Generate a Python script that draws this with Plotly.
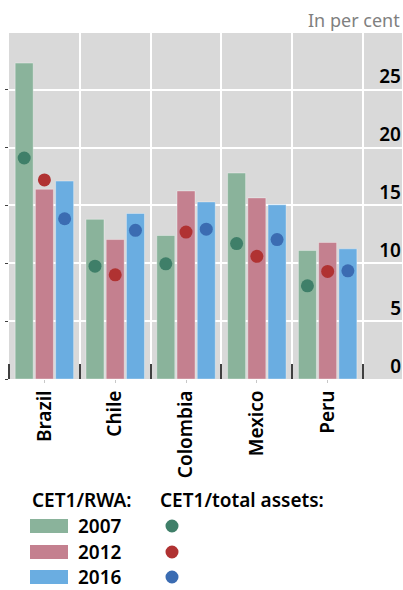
import plotly.graph_objects as go

# CET1 ratios by country, in per cent
countries = ["Brazil", "Chile", "Colombia", "Mexico", "Peru"]
years = ["2007", "2012", "2016"]

rwa_2007 = [27.3, 13.8, 12.4, 17.8, 11.1]
rwa_2012 = [16.4, 12.05, 16.25, 15.65, 11.8]
rwa_2016 = [17.1, 14.3, 15.3, 15.05, 11.25]

assets_2007 = [19.1, 9.75, 9.95, 11.7, 8.05]
assets_2012 = [17.2, 9.0, 12.7, 10.6, 9.3]
assets_2016 = [13.85, 12.85, 12.95, 12.05, 9.35]

y_ticks = [0, 5, 10, 15, 20, 25]

bar_colors = ["#8ab39b", "#c4808f", "#6aade1"]
dot_colors = ["#3f7f69", "#b03232", "#3b6cb2"]

FONT = "Noto Sans"
W, H = 403, 590
M_L, M_R, M_T, M_B = 9, 1, 33, 211

positions = list(range(len(countries)))

fig = go.Figure()

for year, vals, col in zip(years, [rwa_2007, rwa_2012, rwa_2016], bar_colors):
    fig.add_trace(go.Bar(
        x=positions, y=vals, name=f"CET1/RWA {year}",
        marker=dict(color=col, line=dict(color="rgba(255,255,255,0.35)", width=1)),
        showlegend=False,
    ))

for year, vals, col in zip(years, [assets_2007, assets_2012, assets_2016], dot_colors):
    fig.add_trace(go.Scatter(
        x=positions, y=vals, mode="markers", name=f"CET1/total assets {year}",
        marker=dict(color=col, size=13, line=dict(width=0)),
        showlegend=False,
    ))


# helpers converting page pixels to paper coordinates for the key
def px_x(x):
    return (x - M_L) / (W - M_L - M_R)


def px_y(y):
    return (H - M_B - y) / (H - M_B - M_T)


shapes = []
annotations = []

annotations.append(dict(
    text="In per cent", xref="paper", yref="paper", x=px_x(401), y=px_y(20),
    xanchor="right", yanchor="middle", showarrow=False, borderpad=0,
    font=dict(family=FONT, size=18, color="#808080"),
))

for label, x0 in [("CET1/RWA:", 31), ("CET1/total assets:", 159)]:
    annotations.append(dict(
        text=label, xref="paper", yref="paper", x=px_x(x0), y=px_y(500),
        xanchor="left", yanchor="middle", showarrow=False, borderpad=0,
        font=dict(family=FONT, size=19, color="black", weight=600),
    ))

row_y = [526, 552, 577]
for year, yc, bc, dc in zip(years, row_y, bar_colors, dot_colors):
    shapes.append(dict(
        type="rect", xref="paper", yref="paper",
        x0=px_x(30), x1=px_x(68), y0=px_y(yc + 7), y1=px_y(yc - 7),
        fillcolor=bc, line=dict(width=0),
    ))
    annotations.append(dict(
        text=year, xref="paper", yref="paper", x=px_x(77), y=px_y(yc),
        xanchor="left", yanchor="middle", showarrow=False, borderpad=0,
        font=dict(family=FONT, size=19, color="black", weight=600),
    ))
    shapes.append(dict(
        type="circle", xref="paper", yref="paper",
        x0=px_x(172 - 6.5), x1=px_x(172 + 6.5), y0=px_y(yc + 6.5), y1=px_y(yc - 6.5),
        fillcolor=dc, line=dict(width=0),
    ))

fig.update_layout(
    width=W, height=H,
    margin=dict(l=M_L, r=M_R, t=M_T, b=M_B, autoexpand=False),
    paper_bgcolor="white", plot_bgcolor="#d9d9d9",
    barmode="group", bargap=0.143, bargroupgap=0.11,
    scattermode="group", scattergap=0.143,
    font=dict(family=FONT, color="black"),
    shapes=shapes, annotations=annotations,
    xaxis=dict(
        range=[-0.5, 5.05], tickmode="array", tickvals=positions, ticktext=countries,
        tickangle=-90, ticks="outside", ticklen=3, tickcolor="#c8c8c8",
        tickfont=dict(family=FONT, size=19, color="black", weight=600),
        showgrid=False, zeroline=False, showline=False, fixedrange=True,
        automargin=False,
        minor=dict(tick0=-0.5, dtick=1, ticks="inside", ticklen=15, tickwidth=2,
                   tickcolor="#404040", showgrid=True, gridcolor="white", gridwidth=2),
    ),
    yaxis=dict(
        range=[0, 29.9], side="right", tickmode="array", tickvals=y_ticks,
        ticklabelposition="inside", ticklabelshift=-13, ticklabelstandoff=-2,
        ticks="outside", ticklen=3, tickcolor="#404040", mirror="ticks",
        tickfont=dict(family=FONT, size=19, color="black", weight=600),
        showgrid=True, gridcolor="white", gridwidth=2,
        zeroline=False, showline=False, fixedrange=True, automargin=False,
    ),
)

fig.write_html("out.html")
